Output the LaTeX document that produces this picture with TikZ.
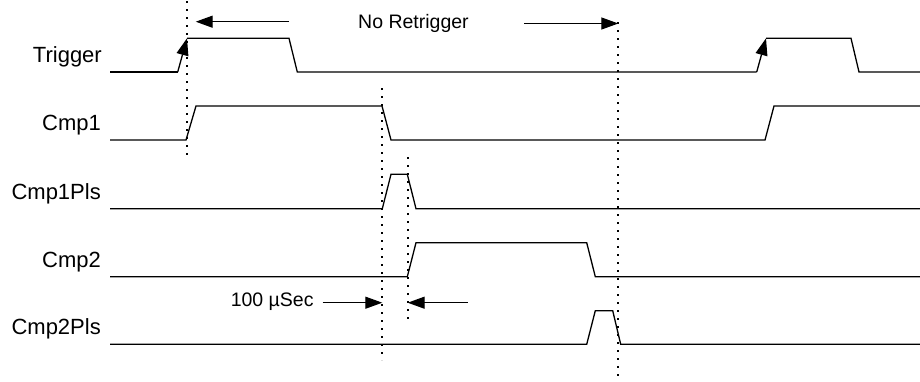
\documentclass[tikz,border=0pt]{standalone}
\usepackage{fontspec}
\setmainfont{Liberation Sans}
\usepackage{tikz}
\usetikzlibrary{arrows.meta}

\begin{document}
\begin{tikzpicture}[x=1pt, y=-1pt,
        signal/.style={line width=1.3pt, line join=miter},
        guide/.style={line width=1.8pt, dash pattern=on 1.8pt off 6.2pt},
        lbl/.style={anchor=base east, inner sep=0pt, font=\fontsize{22}{26}\selectfont},
        note/.style={inner sep=0pt, font=\fontsize{19.5}{23}\selectfont},
        >={Triangle[length=17pt, width=12pt]}
    ]
        \useasboundingbox (0,0) rectangle (920,381);

        % signal names
        \node [lbl] (trig) at (102,62.5) {Trigger};
        \node [lbl] (cmpa) at (101,130.5) {Cmp1};
        \node [lbl] (cmpapls) at (101,199) {Cmp1Pls};
        \node [lbl] (cmpb) at (101,267) {Cmp2};
        \node [lbl] (cmpbpls) at (101,334.8) {Cmp2Pls};

        % waveforms
        \draw [signal] (110,72) -- (177.7,72);
        \draw [signal, ->] (177.7,72) -- (187,38.3);
        \draw [signal] (187,38.3) -- (289,38.3) -- (297.3,72) -- (756.7,72);
        \draw [signal, ->] (756.7,72) -- (766,38.3);
        \draw [signal] (766,38.3) -- (851,38.3) -- (859,72) -- (920,72);

        \draw [signal] (110,140) -- (186,140) -- (196,106) -- (382,106) -- (391,140)
            -- (765,140) -- (774,106) -- (920,106);
        \draw [signal] (110,208.7) -- (382.3,208.7) -- (391,174.3) -- (407.3,174.3)
            -- (416,208.7) -- (920,208.7);
        \draw [signal] (110,276.7) -- (407.3,276.7) -- (416,242.7) -- (586.7,242.7)
            -- (595.3,276.7) -- (920,276.7);
        \draw [signal] (110,344.3) -- (586.7,344.3) -- (595.3,310.7) -- (612.7,310.7)
            -- (620.7,344.3) -- (920,344.3);

        % guide lines
        \coordinate (gatop) at (186.7,1);
        \coordinate (gabot) at (186.7,160);
        \coordinate (gbtop) at (618.3,22);
        \coordinate (gbbot) at (618.3,379);
        \coordinate (gctop) at (382.3,88);
        \coordinate (gcbot) at (382.3,360);
        \coordinate (gdtop) at (407.7,157);
        \coordinate (gdbot) at (407.7,322);
        \draw [guide] (gatop) -- (gabot);
        \draw [guide] (gbtop) -- (gbbot);
        \draw [guide] (gctop) -- (gcbot);
        \draw [guide] (gdtop) -- (gdbot);

        % no retrigger window
        \node [note] (noretrig) at (413.5,23.3) {No Retrigger};
        \coordinate (nrl) at (289,21.7);
        \coordinate (nrr) at (524,23.5);
        \draw [signal, ->, shorten >=9pt] (nrl) -- (gatop |- nrl);
        \draw [signal, ->] (nrr) -- (gbtop |- nrr);

        % pulse width
        \node [note] (pulse) at (272.2,302) {100 µSec};
        \coordinate (pwl) at (322.7,302.7);
        \coordinate (pwr) at (467.7,302.7);
        \draw [signal, ->] (pwl) -- (gctop |- pwl);
        \draw [signal, ->] (pwr) -- (gdtop |- pwr);
\end{tikzpicture}
\end{document}
